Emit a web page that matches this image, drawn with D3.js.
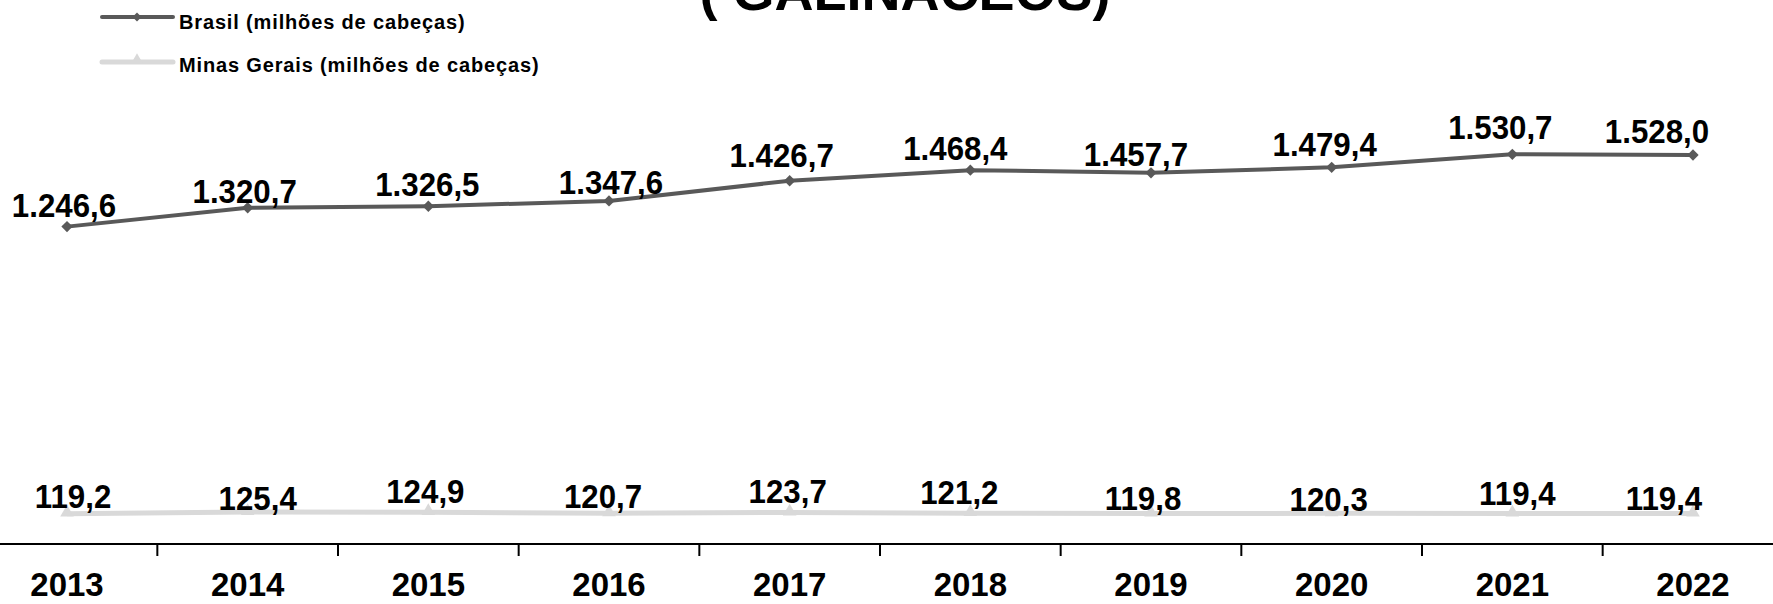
<!DOCTYPE html>
<html>
<head>
<meta charset="utf-8">
<script src="https://cdn.jsdelivr.net/npm/d3@7"></script>
<style>
  html, body { margin: 0; padding: 0; background: #fff; }
  svg { display: block; }
  text { font-family: Arial, "Liberation Sans", sans-serif; font-weight: bold; fill: #000; }
</style>
</head>
<body>
<svg id="chart" width="1773" height="604"></svg>
<script>
// ---- data ----
const years = ["2013","2014","2015","2016","2017","2018","2019","2020","2021","2022"];
const brasil = [1246.6, 1320.7, 1326.5, 1347.6, 1426.7, 1468.4, 1457.7, 1479.4, 1530.7, 1528.0];
const minas = [119.2, 125.4, 124.9, 120.7, 123.7, 121.2, 119.8, 120.3, 119.4, 119.4];
const brasilLabels = ["1.246,6","1.320,7","1.326,5","1.347,6","1.426,7","1.468,4","1.457,7","1.479,4","1.530,7","1.528,0"];
const minasLabels = ["119,2","125,4","124,9","120,7","123,7","121,2","119,8","120,3","119,4","119,4"];
const seriesNames = ["Brasil (milhões de cabeças)", "Minas Gerais (milhões de cabeças)"];
const titleText = "( GALINÁCEOS)";

// ---- label nudges (layout, px relative to point) ----
const brasilNudgeX = [-3,-3,-1,2,-8,-15,-15,-7,-12,-36];
const brasilNudgeY = [-22,-17,-22,-19,-26,-22,-19,-23,-27,-24];
const minasNudgeX = [6,10,-3,-6,-2,-11,-8,-3,5,-29];
const minasNudgeY = [-18,-14,-21,-17,-22,-21,-15,-14,-21,-16];

const svg = d3.select("#chart");
const W = 1773;

const x = d3.scaleBand().domain(years).range([-23.33, 1783.33]).padding(0);
const cx = d => x(d) + x.bandwidth() / 2;
const y = d3.scaleLinear().domain([0, 2000]).range([544, 34.8]);

const colBr = "#595959", colMg = "#d9d9d9";

// title (cut at top, as in the source)
svg.append("text").attr("x", 905).attr("y", 10).attr("text-anchor", "middle")
  .style("font-size", "54px").text(titleText);

// axis
const axisG = svg.append("g").attr("transform", "translate(0,544)");
axisG.append("line").attr("x1", 0).attr("x2", W).attr("y1", 0).attr("y2", 0)
  .attr("stroke", "#000").attr("stroke-width", 2);
axisG.selectAll("line.tick").data(years.slice(1)).join("line").attr("class","tick")
  .attr("x1", d => x(d)).attr("x2", d => x(d)).attr("y1", 0).attr("y2", 12)
  .attr("stroke", "#000").attr("stroke-width", 2);
const xAxis = d3.axisBottom(x).tickSize(0).tickPadding(0);
const ax = svg.append("g").attr("transform", "translate(0,544)").call(xAxis);
ax.select(".domain").remove();
ax.selectAll(".tick text").attr("y", 52).attr("dy", null)
  .style("font-size", "33px").style("font-family", "Arial, 'Liberation Sans', sans-serif")
  .style("font-weight", "bold").attr("fill", "#000");

// lines
const line = d3.line().x((d, i) => cx(years[i])).y(d => y(d));
svg.append("path").datum(minas).attr("d", line).attr("fill", "none")
  .attr("stroke", colMg).attr("stroke-width", 5).attr("stroke-linejoin", "round");
svg.append("path").datum(brasil).attr("d", line).attr("fill", "none")
  .attr("stroke", colBr).attr("stroke-width", 4).attr("stroke-linejoin", "round");

const diamond = d3.symbol(d3.symbolSquare, 64);
const tri = d3.symbol(d3.symbolTriangle, 80);

svg.selectAll("path.mmg").data(minas).join("path").attr("class","mmg")
  .attr("d", tri).attr("fill", colMg)
  .attr("transform", (d, i) => `translate(${cx(years[i])},${y(d) - 1})`);
svg.selectAll("path.mbr").data(brasil).join("path").attr("class","mbr")
  .attr("d", diamond).attr("fill", colBr)
  .attr("transform", (d, i) => `translate(${cx(years[i])},${y(d)}) rotate(45)`);

// data labels (slightly condensed like the source)
const sx = 0.92;
svg.selectAll("text.lbr").data(brasil).join("text").attr("class","lbr")
  .attr("transform", (d, i) => `translate(${cx(years[i]) + brasilNudgeX[i]},${y(d) + brasilNudgeY[i] + 12}) scale(${sx},1)`)
  .attr("text-anchor", "middle").style("font-size", "34px")
  .text((d, i) => brasilLabels[i]);
svg.selectAll("text.lmg").data(minas).join("text").attr("class","lmg")
  .attr("transform", (d, i) => `translate(${cx(years[i]) + minasNudgeX[i]},${y(d) + minasNudgeY[i] + 12}) scale(${sx},1)`)
  .attr("text-anchor", "middle").style("font-size", "34px")
  .text((d, i) => minasLabels[i]);

// legend
const leg = [
  {name: seriesNames[0], color: colBr, w: 4, sym: d3.symbol(d3.symbolSquare, 40), rot: 45, ly: 17, ty: 29},
  {name: seriesNames[1], color: colMg, w: 5, sym: d3.symbol(d3.symbolTriangle, 60), rot: 0, ly: 62, ty: 72}
];
leg.forEach(l => {
  svg.append("line").attr("x1", 102).attr("x2", 173).attr("y1", l.ly).attr("y2", l.ly)
    .attr("stroke", l.color).attr("stroke-width", l.w).attr("stroke-linecap", "round");
  svg.append("path").attr("d", l.sym).attr("fill", l.color)
    .attr("transform", `translate(137,${l.ly - (l.rot ? 0 : 2)}) rotate(${l.rot})`);
  svg.append("text").attr("x", 179).attr("y", l.ty).style("font-size", "20px")
    .style("letter-spacing", "0.85px").text(l.name);
});
</script>
</body>
</html>
